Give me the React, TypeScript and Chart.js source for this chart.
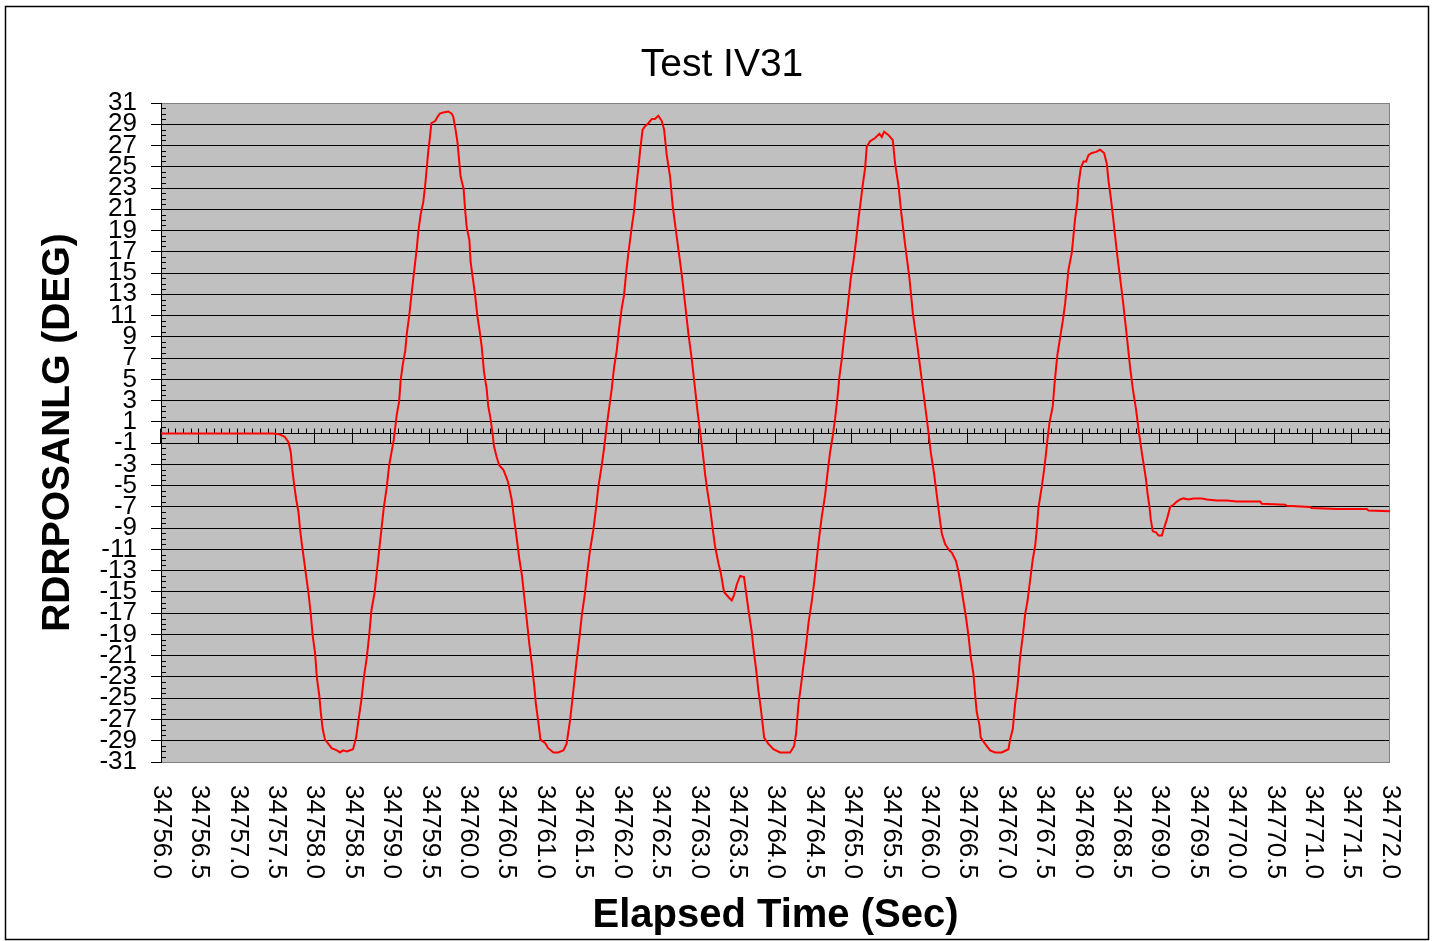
import { useEffect, useRef } from 'react';
import { Chart, registerables } from 'chart.js';

Chart.register(...registerables);

const chartTitle = 'Test IV31';
const yAxisTitle = 'RDRPOSANLG (DEG)';
const xAxisTitle = 'Elapsed Time (Sec)';

const xMin = 34756;
const xMax = 34772;
const yMin = -31;
const yMax = 31;
const yStep = 2;

const xTickLabels = [
  '34756.0', '34756.5', '34757.0', '34757.5', '34758.0', '34758.5', '34759.0', '34759.5',
  '34760.0', '34760.5', '34761.0', '34761.5', '34762.0', '34762.5', '34763.0', '34763.5',
  '34764.0', '34764.5', '34765.0', '34765.5', '34766.0', '34766.5', '34767.0', '34767.5',
  '34768.0', '34768.5', '34769.0', '34769.5', '34770.0', '34770.5', '34771.0', '34771.5',
  '34772.0',
];

const times = [
  34756.00, 34757.45, 34757.52, 34757.55, 34757.61, 34757.66, 34757.69, 34757.71, 34757.73, 34757.76,
  34757.79, 34757.81, 34757.83, 34757.86, 34757.89, 34757.92, 34757.95, 34757.975, 34758.005, 34758.03,
  34758.06, 34758.08, 34758.105, 34758.135, 34758.18, 34758.22, 34758.29, 34758.33, 34758.37, 34758.42,
  34758.50, 34758.54, 34758.57, 34758.61, 34758.64, 34758.68, 34758.71, 34758.74, 34758.78, 34758.81,
  34758.84, 34758.87, 34758.90, 34758.94, 34758.97, 34759.00, 34759.03, 34759.05, 34759.07, 34759.10,
  34759.12, 34759.15, 34759.18, 34759.20, 34759.23, 34759.26, 34759.285, 34759.31, 34759.33, 34759.35,
  34759.38, 34759.415, 34759.44, 34759.46, 34759.48, 34759.50, 34759.52, 34759.57, 34759.60, 34759.63,
  34759.675, 34759.74, 34759.785, 34759.805, 34759.83, 34759.86, 34759.885, 34759.90, 34759.94, 34759.96,
  34759.98, 34760.015, 34760.03, 34760.06, 34760.09, 34760.12, 34760.145, 34760.175, 34760.205, 34760.24,
  34760.26, 34760.29, 34760.32, 34760.335, 34760.37, 34760.405, 34760.457, 34760.50, 34760.52, 34760.565,
  34760.60, 34760.63, 34760.665, 34760.70, 34760.73, 34760.76, 34760.795, 34760.83, 34760.86, 34760.88,
  34760.91, 34760.94, 34761.00, 34761.04, 34761.11, 34761.17, 34761.24, 34761.28, 34761.30, 34761.325,
  34761.35, 34761.38, 34761.41, 34761.45, 34761.48, 34761.52, 34761.55, 34761.585, 34761.63, 34761.664,
  34761.694, 34761.738, 34761.768, 34761.80, 34761.838, 34761.868, 34761.898, 34761.933, 34761.963, 34761.998,
  34762.028, 34762.054, 34762.085, 34762.128, 34762.16, 34762.185, 34762.215, 34762.237, 34762.27, 34762.30,
  34762.345, 34762.39, 34762.43, 34762.475, 34762.52, 34762.55, 34762.584, 34762.627, 34762.662, 34762.705,
  34762.757, 34762.792, 34762.823, 34762.866, 34762.91, 34762.953, 34762.983, 34763.018, 34763.053, 34763.083,
  34763.113, 34763.148, 34763.183, 34763.213, 34763.257, 34763.29, 34763.33, 34763.39, 34763.43, 34763.46,
  34763.496, 34763.54, 34763.59, 34763.618, 34763.648, 34763.69, 34763.713, 34763.748, 34763.778, 34763.808,
  34763.834, 34763.852, 34763.908, 34763.973, 34764.06, 34764.19, 34764.242, 34764.268, 34764.30, 34764.33,
  34764.364, 34764.40, 34764.43, 34764.472, 34764.507, 34764.537, 34764.568, 34764.603, 34764.646, 34764.676,
  34764.71, 34764.746, 34764.776, 34764.807, 34764.833, 34764.863, 34764.893, 34764.92, 34764.95, 34764.98,
  34765.015, 34765.05, 34765.08, 34765.102, 34765.136, 34765.167, 34765.188, 34765.232, 34765.297, 34765.353,
  34765.384, 34765.414, 34765.47, 34765.527, 34765.557, 34765.60, 34765.64, 34765.687, 34765.744, 34765.787,
  34765.848, 34765.905, 34765.948, 34765.99, 34766.022, 34766.065, 34766.10, 34766.135, 34766.165, 34766.208,
  34766.265, 34766.295, 34766.35, 34766.382, 34766.412, 34766.447, 34766.482, 34766.512, 34766.542, 34766.577,
  34766.599, 34766.62, 34766.655, 34766.672, 34766.729, 34766.794, 34766.859, 34766.946, 34767.033, 34767.054,
  34767.089, 34767.12, 34767.15, 34767.185, 34767.22, 34767.25, 34767.28, 34767.315, 34767.35, 34767.38,
  34767.402, 34767.423, 34767.467, 34767.497, 34767.523, 34767.54, 34767.567, 34767.61, 34767.632, 34767.653,
  34767.67, 34767.705, 34767.74, 34767.77, 34767.792, 34767.814, 34767.857, 34767.879, 34767.90, 34767.93,
  34767.944, 34767.975, 34768.01, 34768.044, 34768.074, 34768.118, 34768.174, 34768.226, 34768.278, 34768.313,
  34768.335, 34768.365, 34768.391, 34768.421, 34768.452, 34768.487, 34768.521, 34768.552, 34768.582, 34768.617,
  34768.652, 34768.695, 34768.73, 34768.769, 34768.80, 34768.825, 34768.843, 34768.869, 34768.886, 34768.912,
  34768.955, 34768.986, 34769.03, 34769.05, 34769.094, 34769.138, 34769.181, 34769.225, 34769.268, 34769.311,
  34769.377, 34769.442, 34769.485, 34769.55, 34769.615, 34769.745, 34769.876, 34770.006, 34770.31, 34770.331,
  34770.635, 34770.657, 34770.96, 34770.98, 34771.308, 34771.70, 34771.72, 34772.00,
];

const angles = [
  -0.1, -0.1, -0.15, -0.2, -0.4, -0.9, -1.9, -3.5, -4.7, -6.3,
  -7.5, -9.1, -10.3, -11.9, -13.5, -15.1, -17.1, -19.1, -20.7, -23.1,
  -24.7, -26.3, -27.9, -28.9, -29.3, -29.7, -29.9, -30.1, -29.9, -30.0,
  -29.8, -28.7, -27.1, -25.1, -23.1, -21.1, -19.1, -16.7, -15.1, -13.1,
  -11.1, -9.1, -7.1, -5.1, -3.1, -1.9, -0.7, 0.5, 1.7, 2.9,
  4.9, 6.5, 7.7, 9.3, 10.9, 12.9, 14.5, 16.1, 17.3, 18.9,
  20.5, 21.7, 23.3, 24.9, 26.5, 27.7, 29.1, 29.3, 29.7, 30.0,
  30.1, 30.2, 30.0, 29.7, 28.7, 27.3, 25.3, 24.1, 22.9, 20.9,
  19.3, 18.1, 16.1, 14.5, 12.9, 10.9, 9.7, 8.1, 5.7, 4.1,
  2.5, 1.3, -0.3, -1.3, -2.3, -3.1, -3.5, -4.3, -4.7, -6.3,
  -8.3, -9.9, -11.9, -13.5, -15.5, -17.5, -19.9, -21.9, -23.9, -25.5,
  -27.1, -28.9, -29.2, -29.7, -30.1, -30.1, -29.9, -29.3, -28.3, -27.1,
  -25.5, -23.5, -21.5, -19.1, -17.1, -15.1, -13.1, -11.1, -9.1, -7.1,
  -5.1, -3.1, -1.5, 0.5, 2.5, 4.1, 6.1, 7.7, 9.7, 11.7,
  12.9, 14.9, 16.9, 19.3, 20.9, 22.9, 24.9, 26.5, 28.5, 28.8,
  29.1, 29.5, 29.5, 29.8, 29.3, 28.5, 26.1, 24.1, 21.3, 18.9,
  16.1, 14.1, 12.1, 9.3, 6.9, 4.1, 2.1, 0.1, -1.9, -3.9,
  -5.5, -7.1, -9.1, -10.7, -12.3, -13.3, -15.0, -15.5, -15.8, -15.3,
  -14.3, -13.5, -13.6, -15.1, -16.7, -18.7, -20.3, -22.3, -24.3, -25.9,
  -27.5, -28.7, -29.3, -29.8, -30.1, -30.1, -29.5, -28.3, -25.5, -23.9,
  -21.9, -19.9, -17.9, -15.9, -13.9, -11.9, -9.9, -7.9, -5.9, -3.9,
  -1.9, -0.3, 1.3, 3.3, 5.3, 6.9, 8.9, 10.5, 12.5, 14.5,
  16.1, 18.1, 20.1, 21.3, 23.3, 24.9, 26.9, 27.4, 27.7, 28.1,
  27.8, 28.3, 28.0, 27.5, 25.3, 23.3, 20.5, 17.7, 14.5, 11.3,
  8.1, 4.9, 2.5, 0.1, -1.9, -3.9, -5.9, -7.9, -9.5, -10.5,
  -11.1, -11.3, -12.1, -13.1, -14.3, -15.9, -17.5, -19.1, -21.1, -22.7,
  -24.7, -26.3, -27.5, -28.7, -29.3, -29.9, -30.1, -30.1, -29.8, -28.9,
  -27.9, -25.5, -23.9, -21.1, -19.1, -17.1, -15.9, -13.9, -11.9, -10.7,
  -9.1, -7.1, -5.1, -3.5, -1.9, -0.7, 0.9, 2.5, 4.5, 6.1,
  7.3, 8.9, 10.5, 12.1, 13.7, 15.3, 16.9, 18.5, 20.1, 21.7,
  23.3, 24.9, 25.5, 25.5, 26.1, 26.3, 26.4, 26.6, 26.3, 25.3,
  23.7, 22.1, 20.5, 18.5, 16.5, 14.5, 12.5, 10.5, 8.5, 6.1,
  4.1, 2.1, 0.1, -1.9, -3.3, -4.5, -5.7, -7.0, -8.2, -9.3,
  -9.4, -9.7, -9.7, -9.2, -8.2, -7.0, -6.8, -6.5, -6.3, -6.2,
  -6.3, -6.2, -6.2, -6.2, -6.3, -6.4, -6.4, -6.5, -6.5, -6.7,
  -6.8, -6.9, -7.0, -7.1, -7.2, -7.2, -7.35, -7.4,
];

const FONT = "'Liberation Sans', Arial, Helvetica, sans-serif";

const decorPlugin = {
  id: 'excelDecor',
  beforeDraw(chart: any) {
    const { ctx, chartArea: a } = chart;
    ctx.save();
    ctx.fillStyle = '#ffffff';
    ctx.fillRect(0, 0, chart.width, chart.height);
    ctx.fillStyle = '#C0C0C0';
    ctx.fillRect(a.left, a.top, a.right - a.left, a.bottom - a.top);
    ctx.strokeStyle = '#000000';
    ctx.lineWidth = 1.5;
    ctx.strokeRect(5.5, 6.5, 1423, 933);
    ctx.restore();
  },
  beforeDatasetsDraw(chart: any) {
    const { ctx, chartArea: a, scales } = chart;
    const x = scales.x;
    const y = scales.y;
    ctx.save();
    ctx.lineWidth = 1;
    ctx.strokeStyle = '#808080';
    const rx = Math.round(a.right) - 0.5;
    ctx.beginPath();
    ctx.moveTo(rx, a.top);
    ctx.lineTo(rx, a.bottom);
    ctx.stroke();
    ctx.strokeStyle = '#000000';
    ctx.beginPath();
    const nMinorY = Math.round((yMax - yMin) / 0.5);
    for (let i = 0; i <= nMinorY; i++) {
      if (i % 4 === 0) continue;
      const py = Math.round(y.getPixelForValue(yMin + i * 0.5)) + 0.5;
      ctx.moveTo(a.left, py);
      ctx.lineTo(a.left + 5, py);
    }
    ctx.stroke();
    const y0 = Math.round(y.getPixelForValue(0)) + 0.5;
    ctx.beginPath();
    ctx.moveTo(a.left, y0);
    ctx.lineTo(a.right, y0);
    ctx.stroke();
    ctx.beginPath();
    const nMinorX = Math.round((xMax - xMin) / 0.1);
    for (let k = 0; k <= nMinorX; k++) {
      const px = Math.round(x.getPixelForValue(xMin + k * 0.1)) - 0.5;
      if (k % 5 === 0) {
        ctx.moveTo(px, y0 - 5);
        ctx.lineTo(px, y0 + 10);
      } else {
        ctx.moveTo(px, y0 - 5);
        ctx.lineTo(px, y0);
      }
    }
    ctx.stroke();
    ctx.restore();
  },
  afterDraw(chart: any) {
    const { ctx, chartArea: a, scales } = chart;
    const x = scales.x;
    ctx.save();
    ctx.fillStyle = '#000000';
    ctx.font = `39px ${FONT}`;
    ctx.textAlign = 'center';
    ctx.textBaseline = 'alphabetic';
    ctx.fillText(chartTitle, 722, 76);
    ctx.font = `bold 40px ${FONT}`;
    ctx.fillText(xAxisTitle, (a.left + a.right) / 2, 927);
    ctx.save();
    ctx.font = `bold 39px ${FONT}`;
    ctx.translate(58, (a.top + a.bottom) / 2);
    ctx.rotate(-Math.PI / 2);
    ctx.textBaseline = 'middle';
    ctx.fillText(yAxisTitle, 0, 0);
    ctx.restore();
    ctx.font = `26px ${FONT}`;
    ctx.textAlign = 'left';
    ctx.textBaseline = 'middle';
    xTickLabels.forEach((lab) => {
      const px = x.getPixelForValue(parseFloat(lab));
      ctx.save();
      ctx.translate(px, a.bottom + 23);
      ctx.rotate(Math.PI / 2);
      ctx.fillText(lab, 0, 0);
      ctx.restore();
    });
    ctx.restore();
  },
};

export default function App() {
  const ref = useRef<HTMLCanvasElement | null>(null);

  useEffect(() => {
    if (!ref.current) return;
    const points = times.map((t, i) => ({ x: t, y: angles[i] }));
    const chart = new Chart(ref.current, {
      type: 'line',
      data: {
        datasets: [
          {
            label: 'RDRPOSANLG',
            data: points,
            borderColor: '#FF0000',
            borderWidth: 2,
            pointRadius: 0,
            tension: 0,
            fill: false,
          },
        ],
      },
      options: {
        animation: false,
        responsive: false,
        devicePixelRatio: 1,
        layout: { padding: { left: 0, top: 103, right: 55, bottom: 179 } },
        plugins: {
          legend: { display: false },
          tooltip: { enabled: false },
          title: { display: false },
        },
        scales: {
          x: {
            type: 'linear',
            min: xMin,
            max: xMax,
            grid: { display: false },
            border: { display: false },
            ticks: { display: false },
            afterFit: (s: any) => {
              s.height = 0;
            },
          },
          y: {
            type: 'linear',
            min: yMin,
            max: yMax,
            afterFit: (s: any) => {
              s.width = 161;
            },
            ticks: {
              stepSize: yStep,
              autoSkip: false,
              color: '#000000',
              padding: 14,
              font: { family: FONT, size: 26 },
              callback: (v: any) => String(v),
            },
            grid: {
              color: (c: any) =>
                c.tick && (c.tick.value === yMax || c.tick.value === yMin) ? '#808080' : '#000000',
              lineWidth: 1,
              tickLength: 10,
              tickColor: '#000000',
              drawTicks: true,
            },
            border: { display: true, color: '#000000', width: 1 },
          },
        },
      },
      plugins: [decorPlugin],
    });
    return () => chart.destroy();
  }, []);

  return (
    <div style={{ position: 'absolute', left: 0, top: 0, width: 1445, height: 941 }}>
      <canvas ref={ref} width={1445} height={941} style={{ width: 1445, height: 941, display: 'block' }} />
    </div>
  );
}
